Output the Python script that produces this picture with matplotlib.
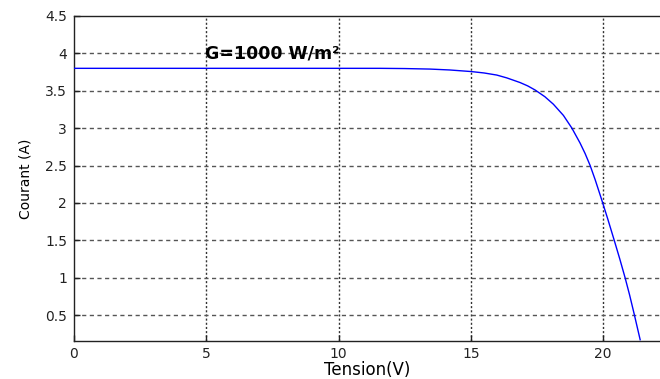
import matplotlib
matplotlib.use("Agg")
import matplotlib.pyplot as plt

# Data (Tension V, Courant A)
tension = [0, 5, 10, 11.57, 12.5, 13.46, 14.2, 15.01, 15.5, 15.98, 16.36, 16.86, 17.15, 17.43, 17.8,
           18.12, 18.5, 18.82, 19.13, 19.32, 19.51, 19.70, 19.93, 20.18, 20.42, 20.63, 20.83, 21.0,
           21.17, 21.40]
courant = [3.80, 3.80, 3.80, 3.80, 3.797, 3.79, 3.778, 3.757, 3.738, 3.71, 3.672, 3.61, 3.565, 3.51,
           3.42, 3.32, 3.17, 3.00, 2.80, 2.66, 2.50, 2.31, 2.06, 1.78, 1.50, 1.25, 1.00, 0.77,
           0.52, 0.17]

xticks = [0, 5, 10, 15, 20]
yticks = [0.5, 1, 1.5, 2, 2.5, 3, 3.5, 4, 4.5]
ytick_labels = ["0.5", "1", "1.5", "2", "2.5", "3", "3.5", "4", "4.5"]
annotation = "G=1000 W/m²"

plt.rcParams['font.family'] = ['DejaVu Sans']

fig = plt.figure(figsize=(6.6, 3.79), dpi=100)
ax = fig.add_axes([0.112, 0.1003, 0.888, 0.8575])

ax.plot(tension, courant, color='#0000ff', linewidth=1.0, zorder=3)

ax.set_xlim(0, 22.15)
ax.set_ylim(0.153, 4.5)
ax.set_xticks(xticks)
ax.set_yticks(yticks)
ax.set_yticklabels(ytick_labels)

# MATLAB-style grid
for x in xticks[1:]:
    ax.axvline(x, color='#333333', linestyle=(0, (1.5, 1.5)), linewidth=1.0, zorder=1)
for y in yticks[:-1]:
    ax.axhline(y, color='#555555', linestyle=(0, (3, 2.5)), linewidth=1.0, zorder=1)

ax.tick_params(direction='in', length=4, width=1, labelsize=10, colors='#222222')
ax.tick_params(axis='y', pad=5)
ax.tick_params(axis='x', pad=4)
for s in ['left', 'bottom', 'top']:
    ax.spines[s].set_color('#222222')
    ax.spines[s].set_linewidth(1.0)
ax.spines['right'].set_visible(False)

ax.set_xlabel('Tension(V)', fontsize=12, labelpad=0)
ax.set_ylabel('Courant (A)', fontsize=10, labelpad=9)

ax.text(4.95, 4.0, annotation, fontsize=12.5, fontweight='bold', va='center', ha='left', zorder=4)

fig.savefig('out.png', dpi=100)
